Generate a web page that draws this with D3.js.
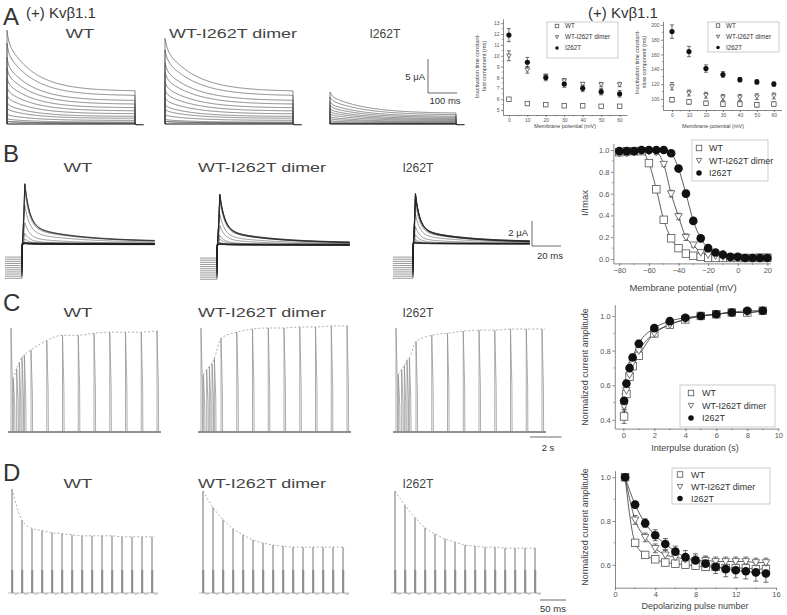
<!DOCTYPE html>
<html><head><meta charset="utf-8">
<script src="https://cdn.jsdelivr.net/npm/d3@7"></script>
<style>body{margin:0;background:#fff}svg{display:block}</style>
</head><body><svg id="c" width="787" height="615"></svg>
<script>
const FONT = '"Liberation Sans", Arial, sans-serif';
// ================= DATA =================
// Panel A: inactivation time constants vs membrane potential
const voltA = [0, 10, 20, 30, 40, 50, 60];
const fastWT = [6.0, 5.6, 5.5, 5.4, 5.4, 5.35, 5.35];
const fastWTErr = [0.15, 0.1, 0.1, 0.1, 0.1, 0.1, 0.1];
const fastDimer = [10.0, 8.7, 8.1, 7.7, 7.4, 7.35, 7.35];
const fastDimerErr = [0.45, 0.3, 0.2, 0.2, 0.15, 0.2, 0.2];
const fastI262T = [11.9, 9.4, 8.0, 7.4, 7.0, 6.7, 6.5];
const fastI262TErr = [0.6, 0.45, 0.3, 0.3, 0.3, 0.3, 0.3];
const slowWT = [99, 96, 94, 93, 93, 92, 93];
const slowWTErr = [3, 3, 3, 3, 3, 3, 3];
const slowDimer = [117, 108, 105, 102, 102, 103, 104];
const slowDimerErr = [5, 4, 4, 4, 4, 4, 4];
const slowI262T = [191, 164, 141, 133, 126, 123, 120];
const slowI262TErr = [9, 7, 5, 4, 3, 3, 3];
// Panel A traces: peak current (uA) per test step -60..+60 mV
const traceAPeakWT = [0.4, 0.4, 0.8, 1.5, 2.4, 3.2, 4.3, 5.5, 6.8, 8.3, 9.8, 11.9, 13.8];
const traceAPeakDimer = [0.4, 0.4, 0.7, 1.4, 2.2, 2.9, 3.9, 5.0, 6.2, 7.6, 9.0, 10.9, 12.6];
const traceAPeakI262T = [0.1, 0.1, 0.3, 0.5, 0.8, 1.1, 1.5, 1.9, 2.3, 2.8, 3.3, 4.0, 4.7];

// Panel B: steady-state inactivation
const voltB = [-80, -75, -70, -65, -60, -55, -50, -45, -40, -35, -30, -25, -20, -15, -10, -5, 0, 5, 10, 15, 20];
const ssiWT = [0.98, 0.99, 0.99, 0.99, 0.88, 0.64, 0.36, 0.19, 0.10, 0.05, 0.03, 0.02, 0.01, 0.01, 0.01, 0.01, 0.01, 0.01, 0.01, 0.01, 0.01];
const ssiWTErr = [0.02, 0.01, 0.01, 0.01, 0.02, 0.03, 0.03, 0.02, 0.02, 0.01, 0.01, 0.01, 0.01, 0.01, 0.01, 0.01, 0.01, 0.01, 0.01, 0.01, 0.01];
const ssiDimer = [0.97, 0.97, 0.98, 0.99, 0.99, 0.98, 0.87, 0.60, 0.39, 0.20, 0.13, 0.06, 0.04, 0.03, 0.02, 0.01, 0.01, 0.01, 0.01, 0.02, 0.02];
const ssiDimerErr = [0.02, 0.02, 0.02, 0.01, 0.01, 0.02, 0.02, 0.03, 0.03, 0.03, 0.02, 0.02, 0.02, 0.02, 0.02, 0.02, 0.02, 0.02, 0.02, 0.02, 0.02];
const ssiI262T = [0.99, 0.99, 0.99, 1.0, 1.0, 1.0, 1.0, 0.97, 0.83, 0.60, 0.35, 0.19, 0.10, 0.06, 0.04, 0.02, 0.02, 0.01, 0.01, 0.01, 0.01];
const ssiI262TErr = [0.01, 0.01, 0.01, 0.01, 0.01, 0.01, 0.01, 0.02, 0.02, 0.03, 0.02, 0.02, 0.02, 0.01, 0.01, 0.01, 0.01, 0.01, 0.01, 0.01, 0.01];
// Panel B traces: maximal peak current (uA) for WT, dimer, I262T
const traceBMax = [5.2, 4.4, 4.3];

// Panel C: recovery from inactivation
const tC = [0.05, 0.2, 0.4, 0.6, 1, 2, 3, 4, 5, 6, 7, 8, 9];
const recWT = [0.42, 0.55, 0.65, 0.71, 0.77, 0.90, 0.95, 0.98, 1.00, 1.01, 1.02, 1.02, 1.03];
const recWTErr = [0.04, 0.02, 0.02, 0.02, 0.02, 0.02, 0.01, 0.01, 0.01, 0.01, 0.01, 0.01, 0.01];
const recDimer = [0.48, 0.57, 0.66, 0.73, 0.80, 0.90, 0.95, 0.98, 1.00, 1.01, 1.02, 1.02, 1.03];
const recDimerErr = [0.03, 0.02, 0.02, 0.02, 0.02, 0.02, 0.01, 0.01, 0.01, 0.01, 0.01, 0.01, 0.01];
const recI262T = [0.51, 0.61, 0.70, 0.76, 0.84, 0.93, 0.97, 0.99, 1.00, 1.01, 1.02, 1.03, 1.03];
const recI262TErr = [0.04, 0.02, 0.02, 0.02, 0.02, 0.01, 0.01, 0.01, 0.01, 0.01, 0.01, 0.01, 0.01];
// Panel C traces: pulse onset (s) and normalized peak of each pulse
const traceCOnset = [0, 0.15, 0.36, 0.53, 0.70, 0.85, 1.27, 2.27, 3.27, 4.27, 5.27, 6.27, 7.27, 8.27, 9.27];
const traceCWT = [1.0, 0.51, 0.61, 0.67, 0.72, 0.74, 0.79, 0.88, 0.93, 0.93, 0.95, 0.96, 0.96, 0.96, 0.97];
const traceCDimer = [1.0, 0.55, 0.60, 0.63, 0.66, 0.71, 0.90, 0.96, 0.99, 1.0, 1.0, 1.01, 1.01, 1.02, 1.02];
const traceCI262T = [1.0, 0.55, 0.60, 0.64, 0.69, 0.71, 0.87, 0.93, 0.95, 0.97, 0.98, 0.98, 0.99, 0.99, 0.99];

// Panel D: cumulative inactivation
const pulseD = [1, 2, 3, 4, 5, 6, 7, 8, 9, 10, 11, 12, 13, 14, 15];
const decWT = [1.0, 0.70, 0.645, 0.625, 0.61, 0.605, 0.60, 0.595, 0.59, 0.59, 0.585, 0.585, 0.585, 0.58, 0.58];
const decWTErr = [0.005, 0.015, 0.015, 0.015, 0.015, 0.015, 0.015, 0.015, 0.015, 0.015, 0.015, 0.015, 0.015, 0.015, 0.015];
const decDimer = [1.0, 0.805, 0.725, 0.675, 0.645, 0.635, 0.625, 0.62, 0.62, 0.615, 0.615, 0.615, 0.615, 0.61, 0.61];
const decDimerErr = [0.005, 0.02, 0.02, 0.02, 0.02, 0.02, 0.02, 0.02, 0.02, 0.02, 0.02, 0.02, 0.02, 0.02, 0.02];
const decI262T = [1.0, 0.875, 0.79, 0.735, 0.695, 0.66, 0.635, 0.62, 0.605, 0.59, 0.58, 0.575, 0.57, 0.565, 0.56];
const decI262TErr = [0.005, 0.015, 0.02, 0.025, 0.025, 0.025, 0.03, 0.03, 0.03, 0.03, 0.035, 0.035, 0.035, 0.04, 0.04];
// Panel D traces: normalized peak of each pulse
const traceDWT = [1.0, 0.70, 0.62, 0.60, 0.58, 0.57, 0.56, 0.55, 0.55, 0.55, 0.55, 0.54, 0.54, 0.54, 0.54];
const traceDDimer = [1.0, 0.84, 0.72, 0.63, 0.57, 0.52, 0.49, 0.47, 0.46, 0.45, 0.45, 0.45, 0.45, 0.45, 0.45];
const traceDI262T = [1.0, 0.86, 0.74, 0.64, 0.58, 0.53, 0.50, 0.47, 0.46, 0.45, 0.45, 0.44, 0.44, 0.44, 0.44];

const genotypes = ['WT', 'WT-I262T dimer', 'I262T'];

// ================= DRAWING =================
const svg = d3.select('#c');

function txt(x, y, s, size, opts = {}) {
  const t = svg.append('text').attr('x', x).attr('y', y).text(s)
    .attr('font-size', size).attr('font-family', FONT).attr('fill', opts.fill || '#222')
    .attr('text-anchor', opts.anchor || 'start');
  if (opts.len) t.attr('textLength', opts.len).attr('lengthAdjust', 'spacingAndGlyphs');
  return t;
}

// Panel letters and headers
txt(3, 25, 'A', 24, { fill: '#333' });
txt(3, 162, 'B', 24, { fill: '#333' });
txt(3, 311, 'C', 24, { fill: '#333' });
txt(3, 481, 'D', 24, { fill: '#333' });
txt(26, 18, '(+) Kvβ1.1', 15, { fill: '#333' });
txt(588, 18, '(+) Kvβ1.1', 15, { fill: '#333' });

const titleX = [80, 233, 385];
const titleXB = [78, 262, 418];
[[38, titleX], [172, titleXB], [317, titleXB], [488, titleXB]].forEach(([y, xs]) => {
  genotypes.forEach((g, i) => {
    const len = g === 'WT' ? 29 : (g === 'I262T' ? 31 : 128);
    txt(xs[i], y, g, 13.5, { anchor: 'middle', len, fill: '#444' });
  });
});

// ---------- Panel A traces ----------
function traceA(x0, x1, base, peaks, pxPerUA, tf, ts, ff, sf, pf) {
  const dur = 440;
  const tx = d3.scaleLinear().domain([0, dur]).range([x0, x1]);
  const maxUA = d3.max(peaks);
  const ty = d3.scaleLinear().domain([0, maxUA]).range([base, base - maxUA * pxPerUA]);
  const g = svg.append('g');
  const line = d3.line().x(d => tx(d[0])).y(d => ty(d[1]));
  peaks.forEach((p, k) => {
    const pts = [[0, 0]];
    for (let t = 0; t <= dur; t += 2) pts.push([t, p * (ff * Math.exp(-t / tf) + sf * Math.exp(-t / ts) + pf)]);
    pts.push([dur, 0]);
    g.append('path').attr('d', line(pts)).attr('fill', 'none')
      .attr('stroke', '#555').attr('stroke-width', 0.7);
  });
  g.append('path').attr('d', line([[0, 0], [dur, 0], [dur + 5, -0.12], [dur + 30, -0.12]]))
    .attr('fill', 'none').attr('stroke', '#111').attr('stroke-width', 1.1);
}
traceA(7, 135, 124, traceAPeakWT, 6.8, fastWT[6], slowWT[6], 0.12, 0.53, 0.35);
traceA(165, 293, 124, traceAPeakDimer, 6.8, fastDimer[6], slowDimer[6], 0.12, 0.50, 0.38);
traceA(330, 456, 124, traceAPeakI262T, 6.8, fastI262T[6], slowI262T[6], 0.12, 0.55, 0.33);
// scale bar A
svg.append('path').attr('d', 'M428,59V93H457').attr('fill', 'none').attr('stroke', '#444').attr('stroke-width', 0.8);
txt(425, 80, '5 μA', 9.5, { anchor: 'end', fill: '#333' });
txt(445, 104, '100 ms', 9.5, { anchor: 'middle', fill: '#333' });

// ---------- Panel B traces ----------
function traceB(x0, xs, x1, base, maxUA, pxPerUA, fArr, vArr) {
  const preMs = 12, testMs = 95;
  const tx = d3.scaleLinear().domain([-preMs, 0, testMs]).range([x0, xs, x1]);
  const ty = d3.scaleLinear().domain([0, maxUA]).range([base, base - maxUA * pxPerUA]);
  const pre = d3.scaleLinear().domain([-80, 20]).range([-2.75, -1.0]);
  const g = svg.append('g');
  const line = d3.line().x(d => tx(d[0])).y(d => ty(d[1]));
  vArr.forEach((v, i) => {
    const f = fArr[i];
    const lev = pre(v);
    const off = (lev + 2.0) * 0.15;
    // holding segment drawn for every other sweep (10 mV spacing)
    if (i % 2 === 0) g.append('path').attr('d', line([[-preMs, lev], [0, lev]]))
      .attr('fill', 'none').attr('stroke', '#333').attr('stroke-width', 0.5);
    const pts = [[0, lev], [0.2, off]];
    for (let t = 0.4; t <= testMs; t += 0.4) {
      let s;
      if (t < 2) s = Math.pow(t / 2, 1.5);
      else s = 0.68 * Math.exp(-(t - 2) / 3.5) + 0.25 * Math.exp(-(t - 2) / 36) + 0.07;
      pts.push([t, off + f * maxUA * s]);
    }
    g.append('path').attr('d', line(pts)).attr('fill', 'none')
      .attr('stroke', '#222').attr('stroke-width', 0.45);
  });
}
traceB(5, 22, 155, 245, traceBMax[0], 12.1, ssiWT, voltB);
traceB(200, 217, 350, 246, traceBMax[1], 12.1, ssiDimer, voltB);
traceB(393, 413, 530, 245, traceBMax[2], 12.1, ssiI262T, voltB);
svg.append('path').attr('d', 'M532,221V246H561').attr('fill', 'none').attr('stroke', '#444').attr('stroke-width', 0.8);
txt(528, 236, '2 μA', 9.5, { anchor: 'end', fill: '#333' });
txt(550, 259, '20 ms', 9.5, { anchor: 'middle', fill: '#333' });

// ---------- Panel C traces ----------
function traceC(x0, base, H, amps) {
  const tx = d3.scaleLinear().domain([0, 1]).range([x0, x0 + 15.75]);
  const ty = d3.scaleLinear().domain([0, 1]).range([base, base - H]);
  const g = svg.append('g');
  g.append('line').attr('x1', x0 - 3).attr('x2', tx(9.27) + 4).attr('y1', base).attr('y2', base)
    .attr('stroke', '#222').attr('stroke-width', 1);
  traceCOnset.forEach((t, i) => {
    const x = tx(t), a = amps[i];
    g.append('path').attr('d', `M${x},${base}L${x},${ty(a)}L${x + 1.4},${ty(a * 0.45)}L${x + 1.6},${base}`)
      .attr('fill', 'none').attr('stroke', '#8a8a8a').attr('stroke-width', 0.7);
  });
  const pts = traceCOnset.slice(1).map((t, i) => [tx(t), ty(amps[i + 1])]);
  pts.push([tx(9.27) + 3, ty(amps[amps.length - 1])]);
  g.append('path').attr('d', d3.line().curve(d3.curveMonotoneX)(pts)).attr('fill', 'none')
    .attr('stroke', '#999').attr('stroke-width', 0.8).attr('stroke-dasharray', '2,2');
}
traceC(11, 432, 104, traceCWT);
traceC(201, 432, 104, traceCDimer);
traceC(396, 432, 104, traceCI262T);
svg.append('line').attr('x1', 530).attr('x2', 561.5).attr('y1', 437).attr('y2', 437).attr('stroke', '#444').attr('stroke-width', 0.8);
txt(548, 451, '2 s', 9.5, { anchor: 'middle', fill: '#333' });

// ---------- Panel D traces ----------
function traceD(x0, base, H, amps) {
  const tx = d3.scaleLinear().domain([1, 2]).range([x0, x0 + 10]);
  const ty = d3.scaleLinear().domain([0, 1]).range([base, base - H]);
  const g = svg.append('g');
  g.append('line').attr('x1', x0 - 4).attr('x2', tx(15) + 6).attr('y1', base).attr('y2', base)
    .attr('stroke', '#aaa').attr('stroke-width', 0.8);
  amps.forEach((a, i) => {
    const x = tx(pulseD[i]);
    g.append('rect').attr('x', x - 0.8).attr('y', base - 23).attr('width', 2.2).attr('height', 23)
      .attr('fill', '#bbb');
    g.append('path').attr('d', `M${x + 1.4},${base}Q${x + 3},${base + 2.5} ${x + 6},${base + 0.5}`)
      .attr('fill', 'none').attr('stroke', '#999').attr('stroke-width', 0.7);
    g.append('line').attr('x1', x).attr('x2', x).attr('y1', base).attr('y2', ty(a))
      .attr('stroke', '#444').attr('stroke-width', 0.75);
  });
  const pts = amps.map((a, i) => [tx(pulseD[i]), ty(a)]);
  pts.push([tx(15) + 2, ty(amps[amps.length - 1])]);
  g.append('path').attr('d', d3.line().curve(d3.curveMonotoneX)(pts)).attr('fill', 'none')
    .attr('stroke', '#999').attr('stroke-width', 0.8).attr('stroke-dasharray', '2,2');
}
traceD(12, 593, 104, traceDWT);
traceD(203, 593, 102, traceDDimer);
traceD(395, 593, 102, traceDI262T);
svg.append('line').attr('x1', 540).attr('x2', 566).attr('y1', 600).attr('y2', 600).attr('stroke', '#444').attr('stroke-width', 0.8);
txt(553, 612, '50 ms', 9.5, { anchor: 'middle', fill: '#333' });

// ---------- Scatter charts ----------
function marker(g, shape, cx, cy, s) {
  if (shape === 'sq') g.append('rect').attr('x', cx - s / 2).attr('y', cy - s / 2).attr('width', s).attr('height', s)
    .attr('fill', '#fff').attr('stroke', '#555').attr('stroke-width', 0.8);
  else if (shape === 'tri') g.append('path')
    .attr('d', `M${cx - s / 2},${cy - s * 0.38}L${cx + s / 2},${cy - s * 0.38}L${cx},${cy + s * 0.5}Z`)
    .attr('fill', '#fff').attr('stroke', '#555').attr('stroke-width', 0.8);
  else g.append('circle').attr('cx', cx).attr('cy', cy).attr('r', s / 2).attr('fill', '#111');
}

function scatter(o) {
  const g = svg.append('g');
  const x = d3.scaleLinear().domain(o.xd).range(o.xr);
  const y = d3.scaleLinear().domain(o.yd).range(o.yr);
  const ax = g.append('g').attr('transform', `translate(0,${o.yr[0]})`)
    .call(d3.axisBottom(x).tickValues(o.xt).tickSize(o.tk).tickPadding(o.pad).tickSizeOuter(0).tickFormat(o.xf));
  const ay = g.append('g').attr('transform', `translate(${o.xr[0]},0)`)
    .call(d3.axisLeft(y).tickValues(o.yt).tickSize(o.tk).tickPadding(o.pad).tickSizeOuter(0).tickFormat(o.yf));
  [ax, ay].forEach(a => {
    a.attr('font-size', o.fs).attr('font-family', FONT);
    a.selectAll('text').attr('fill', '#555');
    a.selectAll('path,line').attr('stroke', '#555').attr('stroke-width', 0.7);
  });
  (o.xm || []).forEach(v => g.append('line').attr('x1', x(v)).attr('x2', x(v)).attr('y1', o.yr[0]).attr('y2', o.yr[0] + o.tk * 0.6).attr('stroke', '#555').attr('stroke-width', 0.6));
  (o.ym || []).forEach(v => g.append('line').attr('y1', y(v)).attr('y2', y(v)).attr('x1', o.xr[0]).attr('x2', o.xr[0] - o.tk * 0.6).attr('stroke', '#555').attr('stroke-width', 0.6));
  if (o.fit) o.series.forEach(s => {
    g.append('path').attr('d', d3.line().x(d => x(d[0])).y(d => y(d[1])).curve(d3.curveMonotoneX)(s.x.map((v, i) => [v, s.y[i]])))
      .attr('fill', 'none').attr('stroke', '#333').attr('stroke-width', 0.8);
  });
  o.series.forEach(s => {
    s.x.forEach((v, i) => {
      const e = s.e[i];
      const cx = x(v);
      g.append('path').attr('d', `M${cx},${y(s.y[i] - e)}V${y(s.y[i] + e)}M${cx - o.cap},${y(s.y[i] - e)}H${cx + o.cap}M${cx - o.cap},${y(s.y[i] + e)}H${cx + o.cap}`)
        .attr('stroke', '#333').attr('stroke-width', 0.7).attr('fill', 'none');
    });
  });
  o.series.forEach(s => s.x.forEach((v, i) => marker(g, s.shape, x(v), y(s.y[i]), s.shape === 'ci' ? o.ms * 1.15 : o.ms)));
  // legend
  const L = o.leg;
  g.append('rect').attr('x', L.x).attr('y', L.y).attr('width', L.w).attr('height', L.h)
    .attr('fill', '#fff').attr('stroke', '#aaa').attr('stroke-width', 0.6);
  o.series.forEach((s, i) => {
    const yy = L.y + L.y0 + i * L.dy;
    marker(g, s.shape, L.x + L.mx, yy, o.lms);
    g.append('text').attr('x', L.x + L.tx).attr('y', yy).attr('dy', '0.35em').text(genotypes[i])
      .attr('font-size', L.fs).attr('font-family', FONT).attr('fill', '#333');
  });
  // axis titles
  o.ytitle.forEach((t, i) => {
    g.append('text').attr('transform', `translate(${o.ytx + i * o.ytdx},${o.yty}) rotate(-90)`)
      .attr('text-anchor', 'middle').text(t).attr('font-size', o.tfs).attr('font-family', FONT).attr('fill', '#444');
  });
  g.append('text').attr('x', o.xtx).attr('y', o.xty).attr('text-anchor', 'middle').text(o.xtitle)
    .attr('font-size', o.tfs).attr('font-family', FONT).attr('fill', '#444');
}

const fmtD = d3.format('d'), fmt1 = d3.format('.1f');
// A1 fast
scatter({
  xd: [-3.2, 64], xr: [503, 627], yd: [4.55, 13.4], yr: [115, 18.8],
  xt: voltA, yt: [5, 6, 7, 8, 9, 10, 11, 12, 13], xf: fmtD, yf: fmtD, tk: 2, pad: 1.5, fs: 5,
  ym: [5.5, 6.5, 7.5, 8.5, 9.5, 10.5, 11.5, 12.5], xm: [5, 15, 25, 35, 45, 55],
  series: [
    { x: voltA, y: fastWT, e: fastWTErr, shape: 'sq' },
    { x: voltA, y: fastDimer, e: fastDimerErr, shape: 'tri' },
    { x: voltA, y: fastI262T, e: fastI262TErr, shape: 'ci' }],
  fit: false, cap: 2, ms: 4.5, lms: 3.5,
  leg: { x: 547, y: 22, w: 71, h: 36, y0: 4, dy: 11, mx: 10, tx: 18, fs: 6.3 },
  ytitle: ['Inactivation time constant-', 'fast component (ms)'], ytx: 479, ytdx: 7, yty: 66, tfs: 5.5,
  xtitle: 'Membrane potential (mV)', xtx: 565, xty: 128
});
// A2 slow
scatter({
  xd: [-5.3, 64.5], xr: [663, 781.5], yd: [85, 205], yr: [110, 21.2],
  xt: voltA, yt: [100, 120, 140, 160, 180, 200], xf: fmtD, yf: fmtD, tk: 2, pad: 1.5, fs: 5,
  ym: [90, 110, 130, 150, 170, 190], xm: [5, 15, 25, 35, 45, 55],
  series: [
    { x: voltA, y: slowWT, e: slowWTErr, shape: 'sq' },
    { x: voltA, y: slowDimer, e: slowDimerErr, shape: 'tri' },
    { x: voltA, y: slowI262T, e: slowI262TErr, shape: 'ci' }],
  fit: false, cap: 2, ms: 4.5, lms: 3.5,
  leg: { x: 708, y: 22, w: 71, h: 30, y0: 3.5, dy: 11, mx: 10, tx: 18, fs: 6.3 },
  ytitle: ['Inactivation time constant-', 'slow component (ms)'], ytx: 639, ytdx: 7, yty: 62, tfs: 5.5,
  xtitle: 'Membrane potential (mV)', xtx: 713, xty: 128
});
// B
scatter({
  xd: [-84, 22], xr: [613.4, 770.3], yd: [-0.04, 1.06], yr: [263.4, 143.5],
  xt: [-80, -60, -40, -20, 0, 20], yt: [0, 0.2, 0.4, 0.6, 0.8, 1.0], xf: fmtD, yf: fmt1, tk: 2.5, pad: 1.5, fs: 7.5,
  xm: [-70, -50, -30, -10, 10], ym: [0.1, 0.3, 0.5, 0.7, 0.9],
  series: [
    { x: voltB, y: ssiWT, e: ssiWTErr, shape: 'sq' },
    { x: voltB, y: ssiDimer, e: ssiDimerErr, shape: 'tri' },
    { x: voltB, y: ssiI262T, e: ssiI262TErr, shape: 'ci' }],
  fit: true, cap: 2.5, ms: 7.5, lms: 5.5,
  leg: { x: 692, y: 140, w: 76, h: 41, y0: 8, dy: 12.5, mx: 7, tx: 17, fs: 9 },
  ytitle: ['I/Imax'], ytx: 588, ytdx: 0, yty: 203, tfs: 9.5,
  xtitle: 'Membrane potential (mV)', xtx: 683, xty: 291
});
// C
scatter({
  xd: [-0.55, 10], xr: [614.8, 778.3], yd: [0.35, 1.065], yr: [428.6, 304.7],
  xt: [0, 2, 4, 6, 8, 10], yt: [0.4, 0.6, 0.8, 1.0], xf: fmtD, yf: fmt1, tk: 2.5, pad: 1.5, fs: 7.5,
  xm: [1, 3, 5, 7, 9], ym: [0.5, 0.7, 0.9],
  series: [
    { x: tC, y: recWT, e: recWTErr, shape: 'sq' },
    { x: tC, y: recDimer, e: recDimerErr, shape: 'tri' },
    { x: tC, y: recI262T, e: recI262TErr, shape: 'ci' }],
  fit: true, cap: 2.5, ms: 7.5, lms: 5.5,
  leg: { x: 680, y: 385, w: 95, h: 42, y0: 8, dy: 12.5, mx: 11, tx: 22, fs: 9 },
  ytitle: ['Normalized current amplitude'], ytx: 588, ytdx: 0, yty: 367, tfs: 9,
  xtitle: 'Interpulse duration (s)', xtx: 695, xty: 451
});
// D
scatter({
  xd: [0, 16], xr: [615, 776], yd: [0.495, 1.03], yr: [587.7, 470.7],
  xt: [0, 4, 8, 12, 16], yt: [0.6, 0.8, 1.0], xf: fmtD, yf: fmt1, tk: 2.5, pad: 1.5, fs: 7.5,
  xm: [2, 6, 10, 14], ym: [0.7, 0.9],
  series: [
    { x: pulseD, y: decWT, e: decWTErr, shape: 'sq' },
    { x: pulseD, y: decDimer, e: decDimerErr, shape: 'tri' },
    { x: pulseD, y: decI262T, e: decI262TErr, shape: 'ci' }],
  fit: true, cap: 2.5, ms: 7.5, lms: 5.5,
  leg: { x: 672, y: 468, w: 98, h: 36, y0: 6.5, dy: 12, mx: 8, tx: 19, fs: 9 },
  ytitle: ['Normalized current amplitude'], ytx: 588, ytdx: 0, yty: 527, tfs: 9,
  xtitle: 'Depolarizing pulse number', xtx: 695, xty: 609
});
</script></body></html>
